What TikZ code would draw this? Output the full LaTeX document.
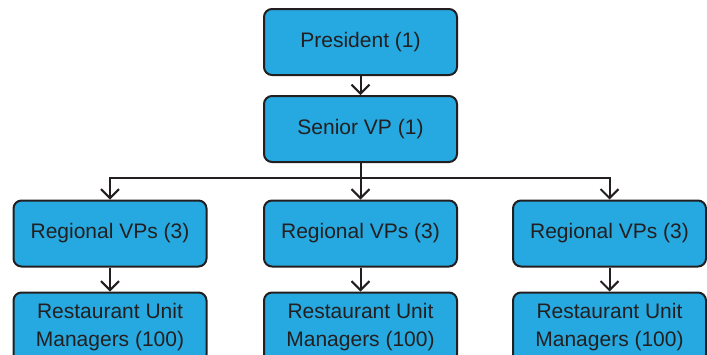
\documentclass[tikz,border=0pt]{standalone}
\usepackage{fontspec}
\setmainfont{Liberation Sans}
\usetikzlibrary{arrows.meta}
\definecolor{boxfill}{HTML}{25A9E0}
\definecolor{ink}{HTML}{231F20}
\begin{document}
\begin{tikzpicture}[x=1pt,y=1pt,
  orgbox/.style={draw=ink, fill=boxfill, line width=2pt, rounded corners=8pt,
    minimum width=193pt, minimum height=66pt, inner sep=0pt,
    text=ink, font=\fontsize{21}{28}\selectfont, align=center},
  tallbox/.style={orgbox, minimum height=70pt},
  link/.style={draw=ink, line width=2pt, -{Straight Barb[length=9pt,width=18pt,line width=2pt]}},
  plain/.style={draw=ink, line width=2pt}]
\useasboundingbox (0,0) rectangle (707,-354);
\node[orgbox] (pres) at (360.5,-42) {President (1)};
\node[orgbox] (svp)  at (360.5,-129) {Senior VP (1)};
\node[orgbox] (rl) at (110,-233.5) {Regional VPs (3)};
\node[orgbox] (rm) at (360.5,-233.5) {Regional VPs (3)};
\node[orgbox] (rr) at (609.5,-233.5) {Regional VPs (3)};
\node[tallbox] (ml) at (110,-327.5) {Restaurant Unit\\Managers (100)};
\node[tallbox] (mm) at (360.5,-327.5) {Restaurant Unit\\Managers (100)};
\node[tallbox] (mr) at (609.5,-327.5) {Restaurant Unit\\Managers (100)};
\coordinate (bus) at (360.5,-178);
\draw[link] (pres) -- (svp);
\draw[plain] (svp.south) -- (bus);
\draw[link] (bus) -- (rm.north);
\draw[link] (bus) -| (rl.north);
\draw[link] (bus) -| (rr.north);
\draw[link] (rl) -- (ml);
\draw[link] (rm) -- (mm);
\draw[link] (rr) -- (mr);
\end{tikzpicture}
\end{document}
